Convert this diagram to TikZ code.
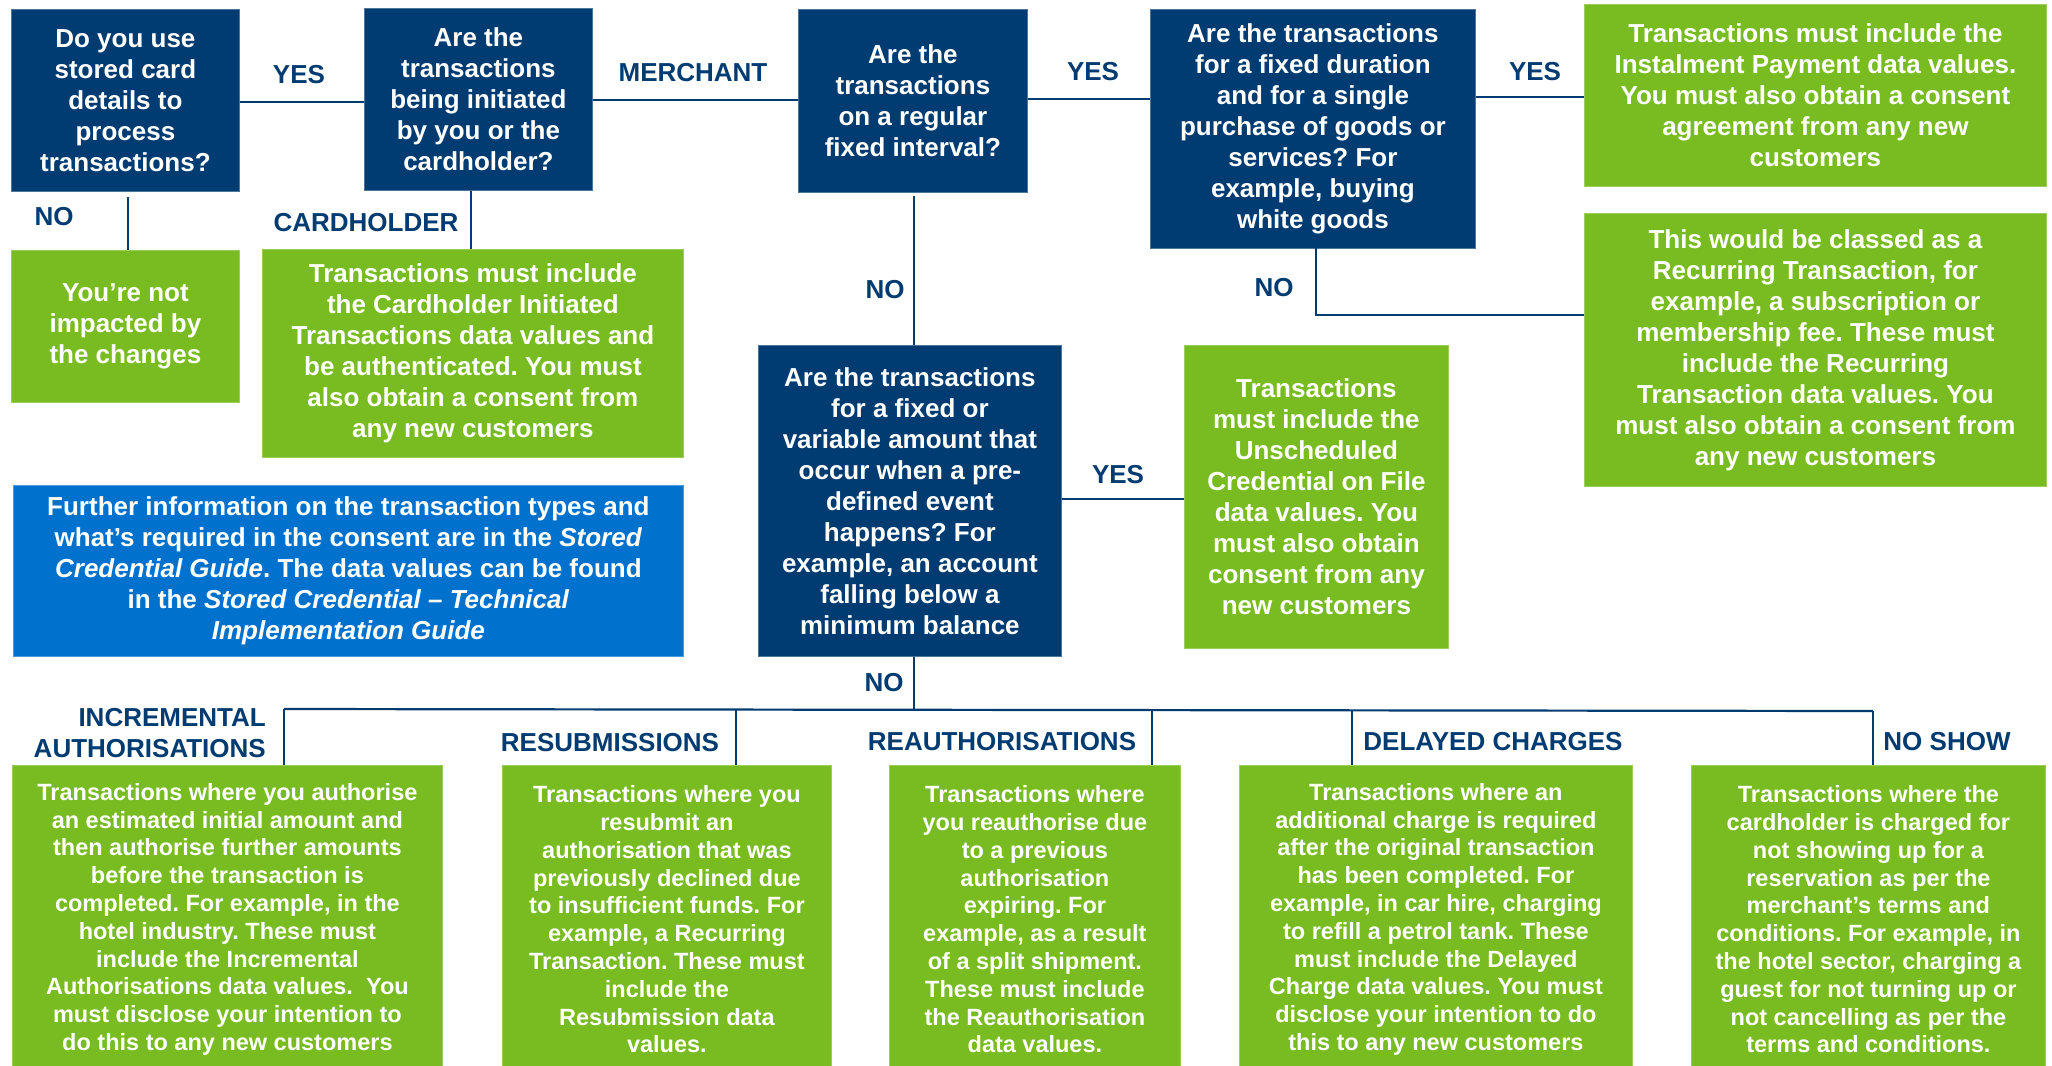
\documentclass[tikz,border=0pt]{standalone}
\usepackage{fontspec}
\setmainfont{Liberation Sans}
\frenchspacing
\definecolor{navy}{RGB}{0,59,113}
\definecolor{lgreen}{RGB}{120,188,34}
\definecolor{mblue}{RGB}{0,114,206}
\tikzset{
  base/.style={rectangle, inner sep=0pt, anchor=north west, align=center, text=white, font=\bfseries\fontsize{26}{31}\selectfont},
  dbox/.style={base, fill=navy, draw=navy!70!white, line width=0.8pt},
  gbox/.style={base, fill=lgreen, draw=lgreen!75!white, line width=0.8pt},
  bbox/.style={base, fill=mblue, draw=mblue!70!white, line width=0.8pt},
  small/.style={font=\bfseries\fontsize{23.5}{27.8}\selectfont},
  lbl/.style={inner sep=0pt, text=navy, font=\bfseries\fontsize{26}{31}\selectfont},
  conn/.style={draw=navy, line width=2.2pt}
}
\begin{document}
\begin{tikzpicture}[x=1pt,y=-1pt]
\useasboundingbox (0,0) rectangle (2052,1065);
% top row
\node[dbox, minimum width=228pt, minimum height=182pt] (q1) at (11,9) {Do you use\\stored card\\details to\\process\\transactions?};
\node[dbox, minimum width=228pt, minimum height=182pt] (q2) at (364,8) {Are the\\transactions\\being initiated\\by you or the\\cardholder?};
\node[dbox, minimum width=229pt, minimum height=183pt] (q3) at (798,9) {Are the\\transactions\\on a regular\\fixed interval?};
\node[dbox, minimum width=325pt, minimum height=239pt] (q4) at (1150,9) {Are the transactions\\for a fixed duration\\and for a single\\purchase of goods or\\services? For\\example, buying\\white goods};
\node[gbox, minimum width=462pt, minimum height=182pt] (inst) at (1584,4) {Transactions must include the\\Instalment Payment data values.\\You must also obtain a consent\\agreement from any new\\customers};
\node[gbox, minimum width=462pt, minimum height=273pt] (recur) at (1584,213) {This would be classed as a\\Recurring Transaction, for\\example, a subscription or\\membership fee. These must\\include the Recurring\\Transaction data values. You\\must also obtain a consent from\\any new customers};
\node[gbox, minimum width=228pt, minimum height=152pt] (ni) at (11,250) {You’re not\\impacted by\\the changes};
\node[gbox, minimum width=421pt, minimum height=208pt] (ch) at (262,249) {Transactions must include\\the Cardholder Initiated\\Transactions data values and\\be authenticated. You must\\also obtain a consent from\\any new customers};
\node[dbox, minimum width=303pt, minimum height=311pt] (q5) at (758,345) {Are the transactions\\for a fixed or\\variable amount that\\occur when a pre-\\defined event\\happens? For\\example, an account\\falling below a\\minimum balance};
\node[gbox, minimum width=264pt, minimum height=303pt] (uns) at (1184,345) {Transactions\\must include the\\Unscheduled\\Credential on File\\data values. You\\must also obtain\\consent from any\\new customers};
\node[bbox, minimum width=670pt, minimum height=171pt] (info) at (13,485) {Further information on the transaction types and\\what’s required in the consent are in the \textit{Stored}\\\textit{Credential Guide}. The data values can be found\\in the \textit{Stored Credential – Technical}\\\textit{Implementation Guide}};
% bottom row
\node[gbox, small, minimum width=430pt, minimum height=308pt] (inc) at (12,765) {Transactions where you authorise\\an estimated initial amount and\\then authorise further amounts\\before the transaction is\\completed. For example, in the\\hotel industry. These must\\include the Incremental\\Authorisations data values.\ \ You\\must disclose your intention to\\do this to any new customers};
\node[gbox, small, minimum width=329pt, minimum height=308pt] (res) at (502,765) {Transactions where you\\resubmit an\\authorisation that was\\previously declined due\\to insufficient funds. For\\example, a Recurring\\Transaction. These must\\include the\\Resubmission data\\values.};
\node[gbox, small, minimum width=291pt, minimum height=308pt] (rea) at (889,765) {Transactions where\\you reauthorise due\\to a previous\\authorisation\\expiring. For\\example, as a result\\of a split shipment.\\These must include\\the Reauthorisation\\data values.};
\node[gbox, small, minimum width=393pt, minimum height=308pt] (del) at (1239,765) {Transactions where an\\additional charge is required\\after the original transaction\\has been completed. For\\example, in car hire, charging\\to refill a petrol tank. These\\must include the Delayed\\Charge data values. You must\\disclose your intention to do\\this to any new customers};
\node[gbox, small, minimum width=354pt, minimum height=308pt] (nos) at (1691,765) {Transactions where the\\cardholder is charged for\\not showing up for a\\reservation as per the\\merchant’s terms and\\conditions. For example, in\\the hotel sector, charging a\\guest for not turning up or\\not cancelling as per the\\terms and conditions.};
% labels
\node[lbl] (lyes1) at (299,75) {YES};
\node[lbl] (lno1) at (54,217) {NO};
\node[lbl] (lch) at (366,223) {CARDHOLDER};
\node[lbl] (lmer) at (693,73) {MERCHANT};
\node[lbl] (lyes2) at (1093,72) {YES};
\node[lbl] (lyes3) at (1535,72) {YES};
\node[lbl] (lno2) at (885,290) {NO};
\node[lbl] (lno3) at (1274,288) {NO};
\node[lbl] (lyes4) at (1118,475) {YES};
\node[lbl] (lno4) at (884,683) {NO};
\node[lbl, anchor=east, align=right] (linc) at (266,733) {INCREMENTAL\\AUTHORISATIONS};
\node[lbl] (lres) at (610,743) {RESUBMISSIONS};
\node[lbl] (lrea) at (1002,742) {REAUTHORISATIONS};
\node[lbl] (ldel) at (1493,742) {DELAYED CHARGES};
\node[lbl] (lnos) at (1947,742) {NO SHOW};
% coordinates
\coordinate (c1) at (128,197);
\coordinate (c2) at (471,191);
\coordinate (c3) at (914,196);
\coordinate (c4) at (1316,248);
\coordinate (c5) at (1316,315);
\coordinate (bus) at (914,709);
\coordinate (bL) at (284,709);
\coordinate (bR) at (1873,711);
\coordinate (d2) at (736,709);
\coordinate (d3) at (1152,710);
\coordinate (d4) at (1352,710);
% connectors
\draw[conn] (q1.east |- 0,102) -- (q2.west |- 0,102);
\draw[conn] (c1) -- (c1 |- ni.north);
\draw[conn] (c2) -- (c2 |- ch.north);
\draw[conn] (q2.east |- 0,100) -- (q3.west |- 0,100);
\draw[conn] (q3.east |- 0,99) -- (q4.west |- 0,99);
\draw[conn] (q4.east |- 0,97) -- (inst.west |- 0,97);
\draw[conn] (c4) -- (c5) -- (c5 -| recur.west);
\draw[conn] (c3) -- (c3 |- q5.north);
\draw[conn] (q5.east |- 0,499) -- (uns.west |- 0,499);
\draw[conn] (q5.south -| bus) -- (bus);
\draw[conn] (bL) -- (bR);
\draw[conn] (bL) -- (bL |- inc.north);
\draw[conn] (d2) -- (d2 |- res.north);
\draw[conn] (d3) -- (d3 |- rea.north);
\draw[conn] (d4) -- (d4 |- del.north);
\draw[conn] (bR) -- (bR |- nos.north);
\end{tikzpicture}
\end{document}
